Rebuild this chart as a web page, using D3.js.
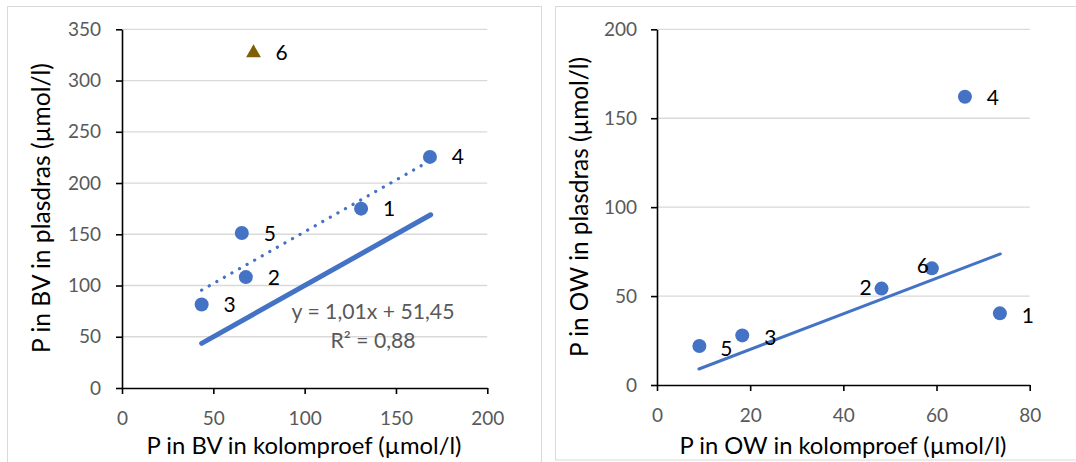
<!DOCTYPE html>
<meta charset="utf-8" />
<script src="https://cdn.jsdelivr.net/npm/d3@7"></script>
<style>
	body { margin: 0; background: #fff; }
</style>
<div id="my_dataviz"></div>

<script>
	// left chart: P in BV
	const bvIds = ['1', '2', '3', '4', '5'];
	const bvKolom = [130.9, 67.8, 43.6, 168.6, 65.6];
	const bvPlasdras = [175, 108.2, 81.5, 225.5, 151.2];
	const bvOutlierIds = ['6'];
	const bvOutlierKolom = [72];
	const bvOutlierPlasdras = [327];
	const bvTrendX = [43.6, 168.6];
	const bvTrendCoef = [1.01, 51.45];
	const bvOneToOne = [43.6, 169];
	const bvXTicks = [0, 50, 100, 150, 200];
	const bvYTicks = [0, 50, 100, 150, 200, 250, 300, 350];
	const bvEquation = ['y = 1,01x + 51,45', 'R² = 0,88'];

	// right chart: P in OW
	const owIds = ['1', '2', '3', '4', '5', '6'];
	const owKolom = [73.6, 48.2, 18.3, 66.1, 9.1, 59.0];
	const owPlasdras = [40.3, 54.2, 27.9, 162.1, 21.9, 65.6];
	const owOneToOne = [9, 73.7];
	const owXTicks = [0, 20, 40, 60, 80];
	const owYTicks = [0, 50, 100, 150, 200];

	var width = 1076, height = 462;
	var font = 'Lato, "Open Sans", sans-serif';
	var blue = '#4472C4';

	var svg = d3.select('#my_dataviz').append('svg')
		.attr('width', width)
		.attr('height', height);

	// shrink/grow a text node until it is as wide as the original (Calibri is not available)
	function fitWidth(sel, target) {
		var w = sel.node().getComputedTextLength();
		var fs = parseFloat(sel.style('font-size'));
		if (w > 0) sel.style('font-size', (fs * target / w).toFixed(2) + 'px');
	}

	// panel frames
	svg.append('rect').attr('x', 7.5).attr('y', 6.5).attr('width', 534).attr('height', 470)
		.attr('fill', 'none').attr('stroke', '#d9d9d9');
	svg.append('rect').attr('x', 555.5).attr('y', 6.5).attr('width', 540).attr('height', 453.5)
		.attr('fill', 'none').attr('stroke', '#d9d9d9');

	function drawPanel(p) {
		var x = d3.scaleLinear().domain(p.xDomain).range([p.left, p.right]);
		var y = d3.scaleLinear().domain(p.yDomain).range([p.bottom, p.top]);
		var g = svg.append('g');

		// gridlines
		g.selectAll('.grid').data(p.yTicks.filter(function (d) { return d > 0; }))
			.enter().append('line')
			.attr('x1', p.left).attr('x2', p.right)
			.attr('y1', function (d) { return y(d); })
			.attr('y2', function (d) { return y(d); })
			.attr('stroke', '#d9d9d9').attr('stroke-width', 1.3);

		// axes
		var xa = g.append('g').attr('transform', 'translate(0,' + p.bottom + ')')
			.call(d3.axisBottom(x).tickValues(p.xTicks).tickSize(6).tickSizeOuter(0).tickPadding(p.xPad));
		var ya = g.append('g').attr('transform', 'translate(' + p.left + ',0)')
			.call(d3.axisLeft(y).tickValues(p.yTicks).tickSize(6).tickSizeOuter(0).tickPadding(p.yPad));
		[xa, ya].forEach(function (a) {
			a.selectAll('path, line').attr('stroke', '#000').attr('stroke-width', 1.6);
			a.selectAll('text').attr('fill', '#595959').style('font-family', font).style('font-size', '19px');
		});

		// axis titles
		var xt = g.append('text')
			.attr('x', p.xTitleX).attr('y', 454)
			.attr('text-anchor', 'middle')
			.style('font-family', font).style('font-size', '22px')
			.text(p.xTitle);
		fitWidth(xt, p.xTitleW);
		var yt = g.append('text')
			.attr('text-anchor', 'middle')
			.attr('transform', 'translate(' + p.yTitleX + ',' + p.yTitleY + ')rotate(-90)')
			.attr('dy', '0.35em')
			.style('font-family', font).style('font-size', '22px')
			.text(p.yTitle);
		fitWidth(yt, p.yTitleW);

		return { g: g, x: x, y: y };
	}

	// ---- left panel ----
	var L = drawPanel({
		xDomain: [0, 200], yDomain: [0, 350],
		left: 122, right: 487.3, top: 29.3, bottom: 388,
		xTicks: bvXTicks, yTicks: bvYTicks, xPad: 18, yPad: 15,
		xTitle: 'P in BV in kolomproef (µmol/l)', xTitleX: 304, xTitleW: 315,
		yTitle: 'P in BV in plasdras (µmol/l)', yTitleX: 41, yTitleY: 208, yTitleW: 290
	});

	// 1:1 line
	L.g.append('line')
		.attr('x1', L.x(bvOneToOne[0])).attr('y1', L.y(bvOneToOne[0]))
		.attr('x2', L.x(bvOneToOne[1])).attr('y2', L.y(bvOneToOne[1]))
		.attr('stroke', blue).attr('stroke-width', 5).attr('stroke-linecap', 'round');

	// trendline (dotted)
	L.g.append('path')
		.datum(bvTrendX)
		.attr('d', d3.line()
			.x(function (d) { return L.x(d); })
			.y(function (d) { return L.y(bvTrendCoef[0] * d + bvTrendCoef[1]); }))
		.attr('fill', 'none').attr('stroke', blue).attr('stroke-width', 3.2)
		.attr('stroke-linecap', 'round').attr('stroke-dasharray', '0.1 8.6');

	// points
	L.g.selectAll('.pt').data(bvIds).enter().append('circle')
		.attr('cx', function (d, i) { return L.x(bvKolom[i]); })
		.attr('cy', function (d, i) { return L.y(bvPlasdras[i]); })
		.attr('r', 7).attr('fill', blue);
	L.g.selectAll('.lbl').data(bvIds).enter().append('text')
		.attr('x', function (d, i) { return L.x(bvKolom[i]) + 28; })
		.attr('y', function (d, i) { return L.y(bvPlasdras[i]); })
		.attr('dy', '0.36em').attr('text-anchor', 'middle')
		.style('font-family', font).style('font-size', '21px')
		.text(function (d) { return d; });

	// outlier triangle
	L.g.selectAll('.tri').data(bvOutlierIds).enter().append('path')
		.attr('d', d3.symbol().type(d3.symbolTriangle).size(95))
		.attr('transform', function (d, i) {
			return 'translate(' + L.x(bvOutlierKolom[i]) + ',' + L.y(bvOutlierPlasdras[i]) + ')';
		})
		.attr('fill', '#7f6000');
	L.g.selectAll('.tlbl').data(bvOutlierIds).enter().append('text')
		.attr('x', function (d, i) { return L.x(bvOutlierKolom[i]) + 28; })
		.attr('y', function (d, i) { return L.y(bvOutlierPlasdras[i]); })
		.attr('dy', '0.36em').attr('text-anchor', 'middle')
		.style('font-family', font).style('font-size', '21px')
		.text(function (d) { return d; });

	// trendline equation
	var eqWidths = [163, 85];
	L.g.selectAll('.eq').data(bvEquation).enter().append('text')
		.attr('x', 373)
		.attr('y', function (d, i) { return 319 + i * 29; })
		.attr('text-anchor', 'middle')
		.attr('fill', '#595959')
		.style('font-family', font).style('font-size', '20px')
		.text(function (d) { return d; })
		.each(function (d, i) { fitWidth(d3.select(this), eqWidths[i]); });

	// ---- right panel ----
	var R = drawPanel({
		xDomain: [0, 80], yDomain: [0, 200],
		left: 657, right: 1029.7, top: 29.3, bottom: 385,
		xTicks: owXTicks, yTicks: owYTicks, xPad: 18, yPad: 14,
		xTitle: 'P in OW in kolomproef (µmol/l)', xTitleX: 843, xTitleW: 327,
		yTitle: 'P in OW in plasdras (µmol/l)', yTitleX: 579, yTitleY: 207, yTitleW: 300
	});

	R.g.append('line')
		.attr('x1', R.x(owOneToOne[0])).attr('y1', R.y(owOneToOne[0]))
		.attr('x2', R.x(owOneToOne[1])).attr('y2', R.y(owOneToOne[1]))
		.attr('stroke', blue).attr('stroke-width', 3).attr('stroke-linecap', 'round');

	R.g.selectAll('.pt').data(owIds).enter().append('circle')
		.attr('cx', function (d, i) { return R.x(owKolom[i]); })
		.attr('cy', function (d, i) { return R.y(owPlasdras[i]); })
		.attr('r', 7).attr('fill', blue);

	// label offsets (some labels were moved by hand in the original)
	var owLabelOffset = { '1': [28, 2], '2': [-16, -1], '3': [28, 2], '4': [28, 1], '5': [27, 2], '6': [-9, -3] };
	R.g.selectAll('.lbl').data(owIds).enter().append('text')
		.attr('x', function (d, i) { return R.x(owKolom[i]) + owLabelOffset[d][0]; })
		.attr('y', function (d, i) { return R.y(owPlasdras[i]) + owLabelOffset[d][1]; })
		.attr('dy', '0.36em').attr('text-anchor', 'middle')
		.style('font-family', font).style('font-size', '21px')
		.text(function (d) { return d; });
</script>
